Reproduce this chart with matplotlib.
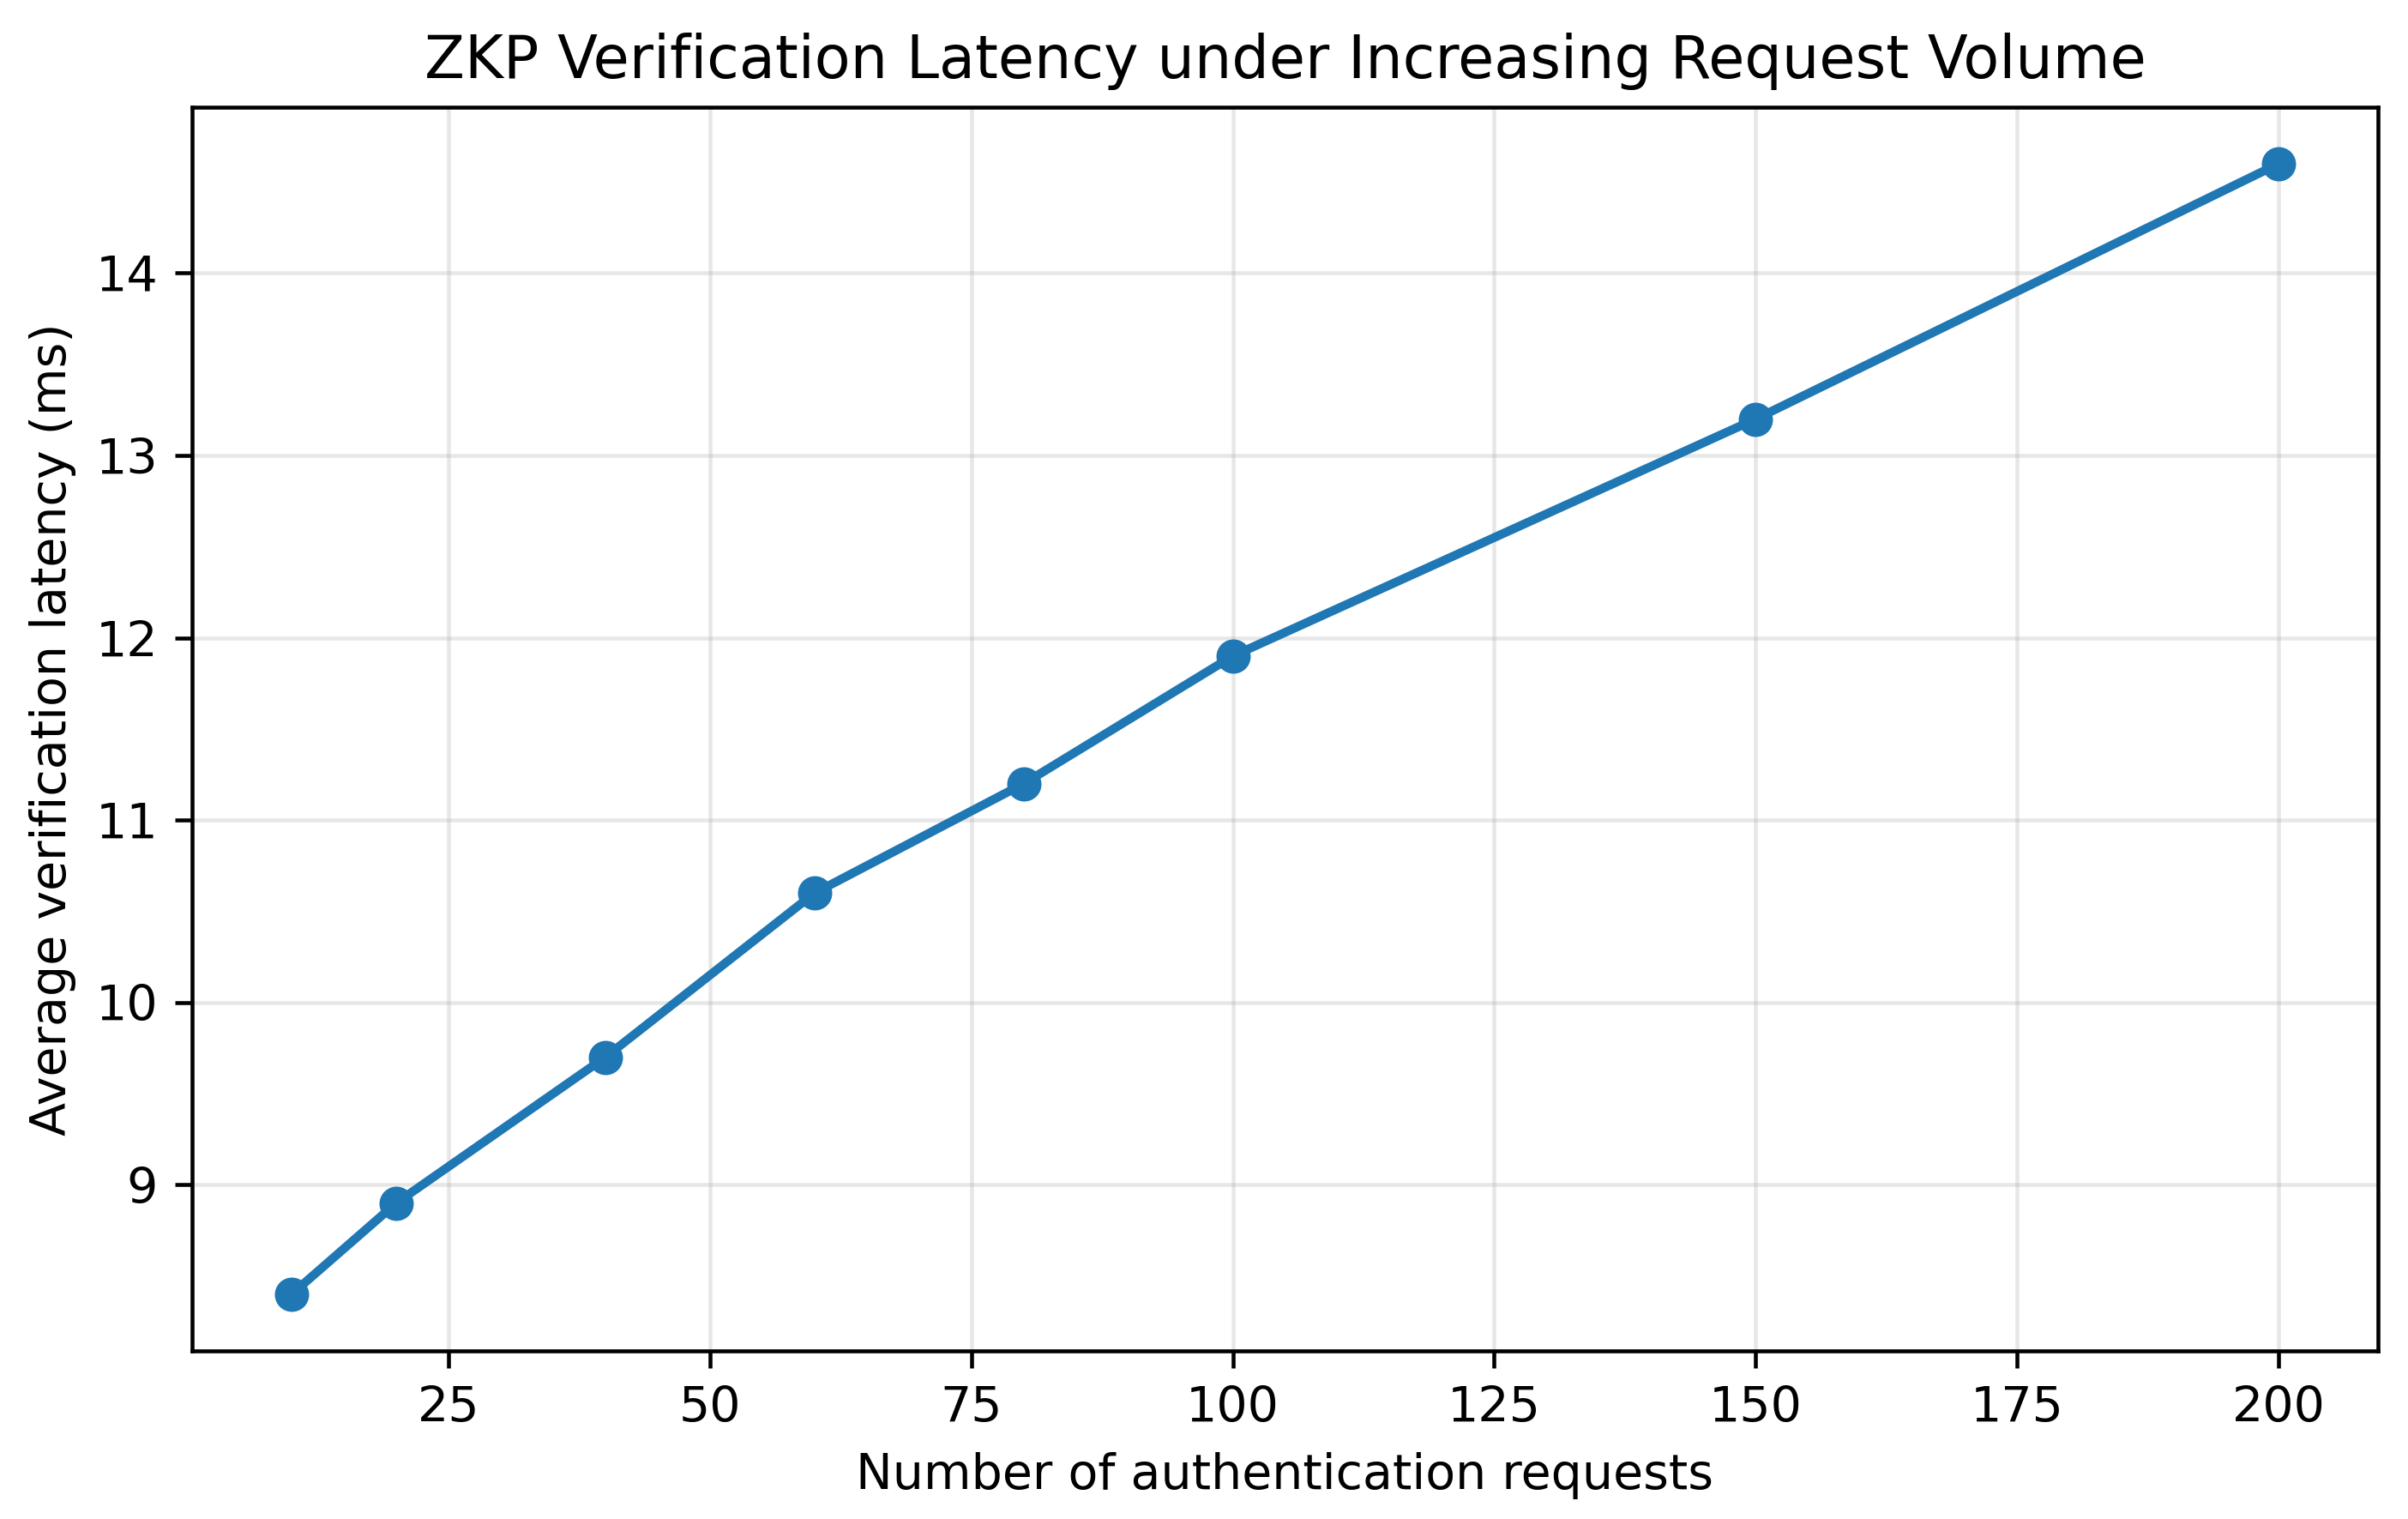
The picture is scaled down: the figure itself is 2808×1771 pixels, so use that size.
import matplotlib
matplotlib.use("Agg")
import matplotlib.pyplot as plt

# Datos
requests = [10, 20, 40, 60, 80, 100, 150, 200]
latency_ms = [8.4, 8.9, 9.7, 10.6, 11.2, 11.9, 13.2, 14.6]

dpi = 411
fig = plt.figure(figsize=(2808 / dpi, 1771 / dpi), dpi=dpi)
ax = fig.add_axes([0.0798, 0.1107, 0.9077, 0.8187])

ax.plot(requests, latency_ms, marker='o', color='#1f77b4', linewidth=1.8, markersize=6)
ax.set_title('ZKP Verification Latency under Increasing Request Volume', fontsize=12)
ax.set_xlabel('Number of authentication requests')
ax.set_ylabel('Average verification latency (ms)')
ax.grid(True, alpha=0.3)

fig.savefig('out.png', dpi=dpi)
